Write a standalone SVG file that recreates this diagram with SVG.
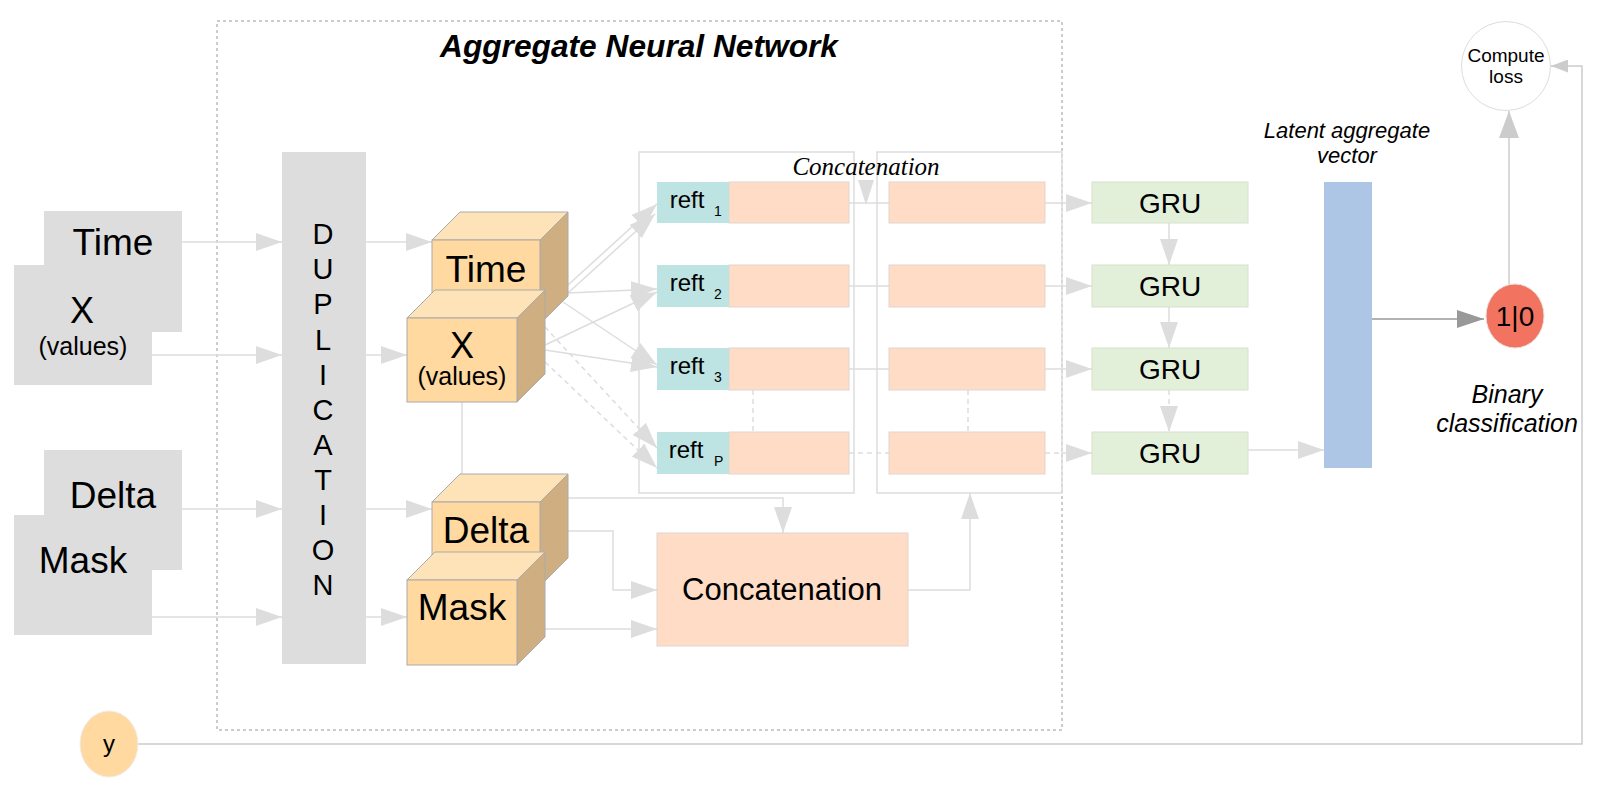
<svg xmlns="http://www.w3.org/2000/svg" width="1600" height="789" viewBox="0 0 1600 789">
<style>
.t{font-family:"Liberation Sans",Arial,sans-serif;fill:#000;text-anchor:middle}
.ln{stroke:#dddddd;stroke-width:1.5;fill:none}
.dsh{stroke-dasharray:5,4}
.gray{fill:#dddddd}
.cf{fill:#ffd9a0;stroke:#aaaaaa;stroke-width:1}
.ct{fill:#ffe3b8;stroke:#aaaaaa;stroke-width:1}
.cs{fill:#cfaf82;stroke:#aaaaaa;stroke-width:1}
.teal{fill:#bde3e3}
.peach{fill:#fedcc6;stroke:#e2d6cf;stroke-width:1}
.gru{fill:#e2efd9;stroke:#d8e2cf;stroke-width:1}
.box{fill:none;stroke:#dddddd;stroke-width:1.5}
</style>
<defs>
<marker id="ah" markerUnits="userSpaceOnUse" markerWidth="26" markerHeight="18" refX="26" refY="9" orient="auto"><path d="M0,0 L26,9 L0,18 z" fill="#dddddd"/></marker>
<marker id="ahd" markerUnits="userSpaceOnUse" markerWidth="27" markerHeight="18" refX="27" refY="9" orient="auto"><path d="M0,0 L27,9 L0,18 z" fill="#999999"/></marker>
<marker id="ahc" markerUnits="userSpaceOnUse" markerWidth="27" markerHeight="20" refX="27" refY="10" orient="auto"><path d="M0,0 L27,10 L0,20 z" fill="#cccccc"/></marker>
<marker id="ahs" markerUnits="userSpaceOnUse" markerWidth="17" markerHeight="13" refX="17" refY="6.5" orient="auto"><path d="M0,0 L17,6.5 L0,13 z" fill="#cccccc"/></marker>
</defs>
<rect width="1600" height="789" fill="#ffffff"/>

<g id="outer-frame">
<rect x="217" y="21" width="845" height="709" fill="none" stroke="#999999" stroke-width="1" stroke-dasharray="3,3"/>
<text class="t" x="639" y="57" font-size="31.7" font-weight="bold" font-style="italic">Aggregate Neural Network</text>
</g>

<g id="connectors">
<line class="ln" x1="182" y1="242" x2="282" y2="242" marker-end="url(#ah)"/>
<line class="ln" x1="152" y1="355" x2="282" y2="355" marker-end="url(#ah)"/>
<line class="ln" x1="182" y1="509" x2="282" y2="509" marker-end="url(#ah)"/>
<line class="ln" x1="152" y1="617" x2="282" y2="617" marker-end="url(#ah)"/>
<line class="ln" x1="366" y1="242" x2="432" y2="242" marker-end="url(#ah)"/>
<line class="ln" x1="366" y1="355" x2="407" y2="355" marker-end="url(#ah)"/>
<line class="ln" x1="366" y1="509" x2="432" y2="509" marker-end="url(#ah)"/>
<line class="ln" x1="366" y1="617" x2="407" y2="617" marker-end="url(#ah)"/>
<line class="ln" x1="462" y1="402" x2="462" y2="474"/>
<line class="ln" x1="568" y1="285" x2="657" y2="204" marker-end="url(#ah)"/>
<line class="ln" x1="568" y1="293" x2="655" y2="214" marker-end="url(#ah)"/>
<line class="ln" x1="568" y1="293" x2="657" y2="289" marker-end="url(#ah)"/>
<line class="ln" x1="563" y1="302" x2="657" y2="365" marker-end="url(#ah)"/>
<line class="ln" x1="545" y1="345" x2="657" y2="292" marker-end="url(#ah)"/>
<line class="ln" x1="545" y1="350" x2="657" y2="367" marker-end="url(#ah)"/>
<line class="ln dsh" x1="545" y1="327" x2="657" y2="448" marker-end="url(#ah)"/>
<line class="ln dsh" x1="545" y1="362" x2="657" y2="468" marker-end="url(#ah)"/>
<polyline class="ln" points="568,498 783,498 783,533" marker-end="url(#ah)"/>
<polyline class="ln" points="568,531 613,531 613,590 657,590" marker-end="url(#ah)"/>
<line class="ln" x1="545" y1="629" x2="657" y2="629" marker-end="url(#ah)"/>
<polyline class="ln" points="908,590 970,590 970,493" marker-end="url(#ah)"/>
<polygon points="858,180 874,180 866,205" fill="#dddddd"/>
<line class="ln" x1="849" y1="203" x2="889" y2="203"/>
<line class="ln" x1="849" y1="286" x2="889" y2="286"/>
<line class="ln" x1="849" y1="369" x2="889" y2="369"/>
<line class="ln dsh" x1="849" y1="453" x2="889" y2="453"/>
<line class="ln" x1="1045" y1="203" x2="1092" y2="203" marker-end="url(#ah)"/>
<line class="ln" x1="1045" y1="286" x2="1092" y2="286" marker-end="url(#ah)"/>
<line class="ln" x1="1045" y1="369" x2="1092" y2="369" marker-end="url(#ah)"/>
<line class="ln dsh" x1="1045" y1="453" x2="1092" y2="453" marker-end="url(#ah)"/>
<line class="ln dsh" x1="753" y1="390" x2="753" y2="432"/>
<line class="ln dsh" x1="968" y1="390" x2="968" y2="432"/>
<line class="ln" x1="1169" y1="223" x2="1169" y2="265" marker-end="url(#ah)"/>
<line class="ln" x1="1169" y1="307" x2="1169" y2="348" marker-end="url(#ah)"/>
<line class="ln dsh" x1="1169" y1="390" x2="1169" y2="432" marker-end="url(#ah)"/>
<line class="ln" x1="1248" y1="450" x2="1324" y2="450" marker-end="url(#ah)"/>
<line x1="1372" y1="319" x2="1484" y2="319" stroke="#999999" stroke-width="1.5" marker-end="url(#ahd)"/>
<line x1="1509" y1="284" x2="1509" y2="111" stroke="#cccccc" stroke-width="1.5" marker-end="url(#ahc)"/>
<polyline points="138,744 1582,744 1582,66 1551,66" fill="none" stroke="#cccccc" stroke-width="1.5" marker-end="url(#ahs)"/>
</g>

<g id="input-time-x">
<rect class="gray" x="44" y="211" width="138" height="121"/>
<rect class="gray" x="14" y="265" width="138" height="120"/>
<text class="t" x="113" y="255" font-size="37">Time</text>
<text class="t" x="82" y="323" font-size="36">X</text>
<text class="t" x="83" y="355" font-size="25">(values)</text>
</g>
<g id="input-delta-mask">
<rect class="gray" x="44" y="450" width="138" height="120"/>
<rect class="gray" x="14" y="515" width="138" height="120"/>
<text class="t" x="113" y="508" font-size="37">Delta</text>
<text class="t" x="83" y="573" font-size="37">Mask</text>
</g>

<g id="duplication">
<rect class="gray" x="282" y="152" width="84" height="512"/>
<g font-size="29">
<text class="t" x="323" y="244">D</text>
<text class="t" x="323" y="279">U</text>
<text class="t" x="323" y="314">P</text>
<text class="t" x="323" y="350">L</text>
<text class="t" x="323" y="385">I</text>
<text class="t" x="323" y="420">C</text>
<text class="t" x="323" y="455">A</text>
<text class="t" x="323" y="490">T</text>
<text class="t" x="323" y="525">I</text>
<text class="t" x="323" y="560">O</text>
<text class="t" x="323" y="595">N</text>
</g>
</g>

<g id="cube-time">
<polygon class="ct" points="432,240 460,212 568,212 540,240"/>
<polygon class="cs" points="540,240 568,212 568,296 540,324"/>
<rect class="cf" x="432" y="240" width="108" height="84"/>
<text class="t" x="486" y="282" font-size="37">Time</text>
</g>
<g id="cube-x">
<polygon class="ct" points="407,318 435,290 545,290 517,318"/>
<polygon class="cs" points="517,318 545,290 545,374 517,402"/>
<rect class="cf" x="407" y="318" width="110" height="84"/>
<text class="t" x="462" y="358" font-size="36">X</text>
<text class="t" x="462" y="385" font-size="25">(values)</text>
</g>
<g id="cube-delta">
<polygon class="ct" points="432,502 460,474 568,474 540,502"/>
<polygon class="cs" points="540,502 568,474 568,558 540,586"/>
<rect class="cf" x="432" y="502" width="108" height="84"/>
<text class="t" x="486" y="543" font-size="37">Delta</text>
</g>
<g id="cube-mask">
<polygon class="ct" points="407,580 435,552 545,552 517,580"/>
<polygon class="cs" points="517,580 545,552 545,637 517,665"/>
<rect class="cf" x="407" y="580" width="110" height="85"/>
<text class="t" x="462" y="620" font-size="37">Mask</text>
</g>

<g id="reft-column">
<rect class="box" x="639" y="152" width="215" height="341"/>
<rect class="peach" x="729" y="182" width="120" height="41"/>
<rect class="teal" x="657" y="182" width="72" height="41"/>
<text class="t" x="687" y="208" font-size="24">reft</text><text class="t" x="714" y="216" font-size="14" style="text-anchor:start">1</text>
<rect class="peach" x="729" y="265" width="120" height="42"/>
<rect class="teal" x="657" y="265" width="72" height="42"/>
<text class="t" x="687" y="291" font-size="24">reft</text><text class="t" x="714" y="299" font-size="14" style="text-anchor:start">2</text>
<rect class="peach" x="729" y="348" width="120" height="42"/>
<rect class="teal" x="657" y="348" width="72" height="42"/>
<text class="t" x="687" y="374" font-size="24">reft</text><text class="t" x="714" y="382" font-size="14" style="text-anchor:start">3</text>
<rect class="peach" x="729" y="432" width="120" height="42"/>
<rect class="teal" x="657" y="432" width="72" height="42"/>
<text class="t" x="686" y="458" font-size="24">reft</text><text class="t" x="714" y="466" font-size="14" style="text-anchor:start">P</text>
</g>

<g id="concat-column">
<rect class="box" x="877" y="152" width="185" height="341"/>
<rect class="peach" x="889" y="182" width="156" height="41"/>
<rect class="peach" x="889" y="265" width="156" height="42"/>
<rect class="peach" x="889" y="348" width="156" height="42"/>
<rect class="peach" x="889" y="432" width="156" height="42"/>
<text x="866" y="175" font-size="25" font-style="italic" text-anchor="middle" font-family="'Liberation Serif','Times New Roman',serif">Concatenation</text>
</g>

<g id="concatenation">
<rect class="peach" x="657" y="533" width="251" height="113"/>
<text class="t" x="782" y="600" font-size="31">Concatenation</text>
</g>

<g id="gru-stack">
<rect class="gru" x="1092" y="182" width="156" height="41"/>
<text class="t" x="1170" y="213" font-size="28">GRU</text>
<rect class="gru" x="1092" y="265" width="156" height="42"/>
<text class="t" x="1170" y="296" font-size="28">GRU</text>
<rect class="gru" x="1092" y="348" width="156" height="42"/>
<text class="t" x="1170" y="379" font-size="28">GRU</text>
<rect class="gru" x="1092" y="432" width="156" height="42"/>
<text class="t" x="1170" y="463" font-size="28">GRU</text>
</g>

<g id="latent-vector">
<rect x="1324" y="182" width="48" height="286" fill="#aec6e6"/>
<text class="t" x="1347" y="138" font-size="22" font-style="italic">Latent aggregate</text>
<text class="t" x="1347" y="163" font-size="22" font-style="italic">vector</text>
</g>

<g id="binary-output">
<ellipse cx="1515" cy="316" rx="29" ry="32" fill="#f27360" stroke="#e8e0dc" stroke-width="1"/>
<text class="t" x="1515" y="326" font-size="28">1|0</text>
<text class="t" x="1507" y="403" font-size="25" font-style="italic">Binary</text>
<text class="t" x="1507" y="432" font-size="25" font-style="italic">classification</text>
</g>

<g id="compute-loss">
<circle cx="1506" cy="66" r="44.5" fill="#ffffff" stroke="#dddddd" stroke-width="1"/>
<text class="t" x="1506" y="62" font-size="19">Compute</text>
<text class="t" x="1506" y="83" font-size="19">loss</text>
</g>

<g id="label-y">
<ellipse cx="109" cy="744" rx="29" ry="33" fill="#ffd9a0" stroke="#eeeeee" stroke-width="1"/>
<text class="t" x="109" y="752" font-size="24">y</text>
</g>
</svg>
